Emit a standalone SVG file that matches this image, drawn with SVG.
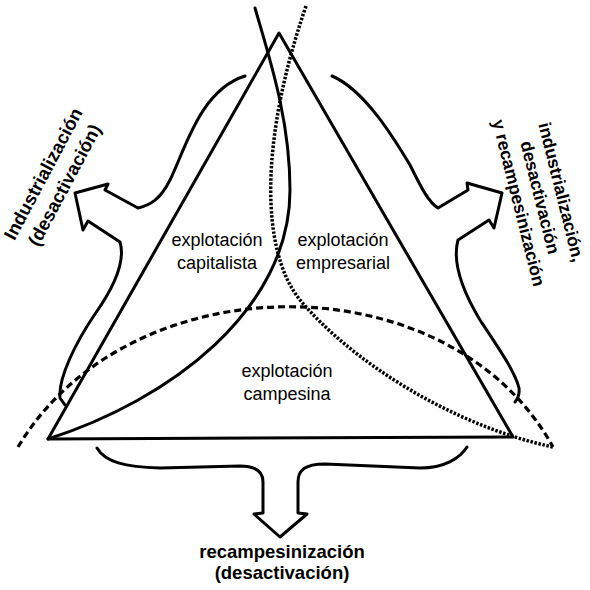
<svg xmlns="http://www.w3.org/2000/svg" width="590" height="590" viewBox="0 0 590 590">
  <style>
    .line { fill: none; stroke: #000; stroke-width: 3; stroke-linecap: round; stroke-linejoin: round; }
    .dash { fill: none; stroke: #000; stroke-width: 3.2; stroke-dasharray: 7 4; }
    .dot { fill: none; stroke: #000; stroke-width: 3.5; stroke-dasharray: 2.5 1.6; }
    .lbl { font-family: "Liberation Sans", Arial, sans-serif; font-size: 18px; fill: #000; text-anchor: middle; }
    .big { font-family: "Liberation Sans", Arial, sans-serif; font-size: 18.5px; font-weight: bold; fill: #000; text-anchor: middle; }
    .side { font-size: 17.5px; }
  </style>
  <rect width="590" height="590" fill="#fff"/>

  <!-- boundary curves and triangle -->
  <g id="connectors">
    <path id="triangle" class="line" d="M279,33 L513,437 L48,439 Z"/>
    <path id="capitalist-curve" class="line" d="M48,439 C170,400 290,310 290,190 C290,120 270,60 255,8"/>
    <path id="peasant-arc" class="dash" d="M18,447 C130,260 450,260 553,447"/>
    <path id="business-curve" class="dot" d="M306,6 C260,140 260,250 300,300 C350,360 450,425 553,447"/>
  </g>

  <!-- left brace with arrow -->
  <g id="arrow-left">
    <path class="line" d="M245,76 C200,90 185,150 170,180 C160,200 150,205 138,208 L105,190 L108,184 L75,193 L83,230 L88,221 L120,242 C126,262 112,290 95,314 C76,342 58,378 60,398 L65,405"/>
  </g>

  <!-- right brace with arrow -->
  <g id="arrow-right">
    <path class="line" d="M332,76 C365,90 395,140 410,165 C420,185 428,202 438,208 L468,190 L467,183 L502,193 L494,228 L489,220 L458,240 C452,262 462,290 480,320 C500,350 515,372 519,388 Q520,396 515,402"/>
  </g>

  <!-- bottom brace with arrow -->
  <g id="arrow-bottom">
    <path class="line" d="M97,448 C105,462 125,467 160,468 L240,466 C256,466 263,472 263,482 L263,513 L254,514 L280,537 L307,514 L298,513 L298,482 C298,470 305,464 325,464 L420,468 C445,468 460,458 467,447"/>
  </g>

  <!-- region labels -->
  <g id="node-capitalista">
    <text class="lbl" x="217" y="246">explotación</text>
    <text class="lbl" x="217" y="269">capitalista</text>
  </g>
  <g id="node-empresarial">
    <text class="lbl" x="343" y="246">explotación</text>
    <text class="lbl" x="343" y="269">empresarial</text>
  </g>
  <g id="node-campesina">
    <text class="lbl" x="287" y="377">explotación</text>
    <text class="lbl" x="287" y="400">campesina</text>
  </g>

  <!-- outcome labels -->
  <g id="node-left" transform="translate(55,180) rotate(-62)">
    <text class="big" x="0" y="-7">Industrialización</text>
    <text class="big" x="0" y="17">(desactivación)</text>
  </g>
  <g id="node-right" transform="translate(542,197) rotate(76)">
    <text class="big side" x="0" y="-14">industrialización,</text>
    <text class="big side" x="0" y="8">desactivación</text>
    <text class="big side" x="0" y="30">y recampesinización</text>
  </g>
  <g id="node-bottom">
    <text class="big" x="282" y="558">recampesinización</text>
    <text class="big" x="282" y="579">(desactivación)</text>
  </g>
</svg>
